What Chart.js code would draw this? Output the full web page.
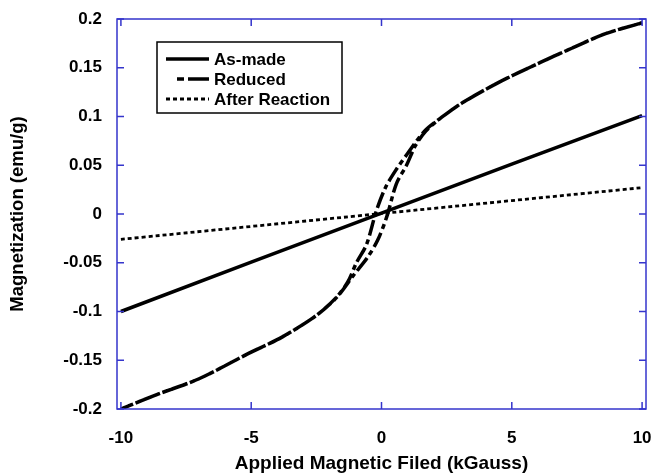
<!DOCTYPE html>
<html>
<head>
<meta charset="utf-8">
<script src="https://cdn.jsdelivr.net/npm/chart.js@4/dist/chart.umd.min.js"></script>
<style>
  html, body { margin: 0; padding: 0; background: #fff; }
  #wrap { width: 654px; height: 475px; }
</style>
</head>
<body>
<div id="wrap"><canvas id="mag"></canvas></div>
<script>
// applied field (kGauss) and magnetization (emu/g)
const fieldAsMade = [-10, 0, 10];
const momentAsMade = [-0.1, 0.001, 0.101];

const fieldAfter = [-10, 0, 10];
const momentAfter = [-0.026, 0.0005, 0.027];

// reduced sample: descending branch (+10 -> -10) then ascending branch (-10 -> +10)
const fieldReduced = [
  10, 8.6, 7.3, 5.9, 4.5, 3.1, 2.3, 1.65, 1.0, 0.55, 0.15, -0.2, -0.57, -0.96, -1.3, -1.75, -2.5, -3.8, -5.1, -7.0, -8.6, -10,
  -8.6, -7.0, -5.1, -3.8, -2.5, -1.7, -1.05, -0.55, -0.15, 0.2, 0.57, 0.96, 1.3, 1.7, 2.3, 3.1, 4.5, 5.9, 7.3, 8.6, 10
];
const momentReduced = [
  0.196, 0.185, 0.170, 0.153, 0.135, 0.114, 0.099, 0.085, 0.062, 0.045, 0.027, 0.003, -0.031, -0.05, -0.07, -0.086, -0.104, -0.126, -0.143, -0.169, -0.185, -0.2,
  -0.185, -0.169, -0.143, -0.126, -0.104, -0.085, -0.062, -0.045, -0.027, -0.003, 0.031, 0.05, 0.07, 0.085, 0.099, 0.114, 0.135, 0.153, 0.170, 0.185, 0.196
];

const xTicks = [-10, -5, 0, 5, 10];
const yTicks = [-0.2, -0.15, -0.1, -0.05, 0, 0.05, 0.1, 0.15, 0.2];

const seriesNames = ["As-made", "Reduced", "After Reaction"];

const pts = (xs, ys) => xs.map((x, i) => ({ x: x, y: ys[i] }));

const FRAME = "#3535cc";
const FONT = "'Liberation Sans', Arial, sans-serif";

const dashes = [[], [16, 4, 5, 4], [4, 3]];
const widths = [3.5, 3.5, 2.8];

// frame, inward tick marks and the boxed legend
const decor = {
  id: "decor",
  afterDraw(chart) {
    const { ctx, chartArea: a, scales } = chart;
    ctx.save();
    ctx.strokeStyle = FRAME;
    ctx.lineWidth = 1.5;
    ctx.strokeRect(a.left, a.top, a.right - a.left, a.bottom - a.top);
    ctx.beginPath();
    xTicks.forEach((v) => {
      const px = scales.x.getPixelForValue(v);
      ctx.moveTo(px, a.bottom); ctx.lineTo(px, a.bottom - 7);
      ctx.moveTo(px, a.top); ctx.lineTo(px, a.top + 7);
    });
    yTicks.forEach((v) => {
      const py = scales.y.getPixelForValue(v);
      ctx.moveTo(a.left, py); ctx.lineTo(a.left + 7, py);
      ctx.moveTo(a.right, py); ctx.lineTo(a.right - 7, py);
    });
    ctx.stroke();

    // legend box
    const bx = a.left + 40, by = a.top + 23, bw = 185, bh = 71;
    ctx.strokeStyle = "#000";
    ctx.lineWidth = 1.5;
    ctx.strokeRect(bx, by, bw, bh);
    ctx.font = "bold 17px " + FONT;
    ctx.fillStyle = "#000";
    ctx.textBaseline = "middle";
    seriesNames.forEach((name, i) => {
      const y = by + 17 + i * 20;
      ctx.beginPath();
      ctx.lineWidth = widths[i];
      ctx.setLineDash(dashes[i]);
      if (i === 1) {
        ctx.setLineDash([]);
        ctx.moveTo(bx + 20, y); ctx.lineTo(bx + 27, y);
        ctx.moveTo(bx + 31, y); ctx.lineTo(bx + 52, y);
      } else {
        ctx.moveTo(bx + 9, y); ctx.lineTo(bx + 52, y);
      }
      ctx.stroke();
      ctx.setLineDash([]);
      ctx.fillText(name, bx + 57, y + 1);
    });
    ctx.restore();
  }
};

new Chart(document.getElementById("mag"), {
  type: "scatter",
  data: {
    datasets: [
      { label: seriesNames[0], data: pts(fieldAsMade, momentAsMade) },
      { label: seriesNames[1], data: pts(fieldReduced, momentReduced) },
      { label: seriesNames[2], data: pts(fieldAfter, momentAfter) }
    ].map((d, i) => Object.assign(d, {
      showLine: true,
      borderColor: "#000",
      backgroundColor: "#000",
      borderWidth: widths[i],
      borderDash: dashes[i],
      pointRadius: 0,
      tension: 0.3,
      fill: false
    }))
  },
  options: {
    responsive: true,
    maintainAspectRatio: false,
    animation: false,
    layout: { padding: { top: 19, right: 8, left: 0, bottom: 0 } },
    plugins: { legend: { display: false }, tooltip: { enabled: false } },
    scales: {
      x: {
        type: "linear",
        min: -10.15,
        max: 10.15,
        afterBuildTicks: (s) => { s.ticks = xTicks.map((v) => ({ value: v })); },
        afterFit: (s) => { s.height = 66; s.paddingLeft = 0; s.paddingRight = 0; },
        grid: { display: false },
        border: { display: false },
        ticks: {
          padding: 11,
          color: "#000",
          font: { family: FONT, size: 17, weight: "bold" },
          callback: (v) => String(v)
        },
        title: {
          display: true,
          text: "Applied Magnetic Filed (kGauss)",
          color: "#000",
          font: { family: FONT, size: 19, weight: "bold" },
          padding: { top: 0, bottom: 0 }
        }
      },
      y: {
        type: "linear",
        min: -0.2,
        max: 0.2,
        afterBuildTicks: (s) => { s.ticks = yTicks.map((v) => ({ value: v })); },
        afterFit: (s) => { s.width = 117; s.paddingTop = 0; s.paddingBottom = 0; },
        grid: { display: false },
        border: { display: false },
        ticks: {
          padding: 7,
          color: "#000",
          font: { family: FONT, size: 17, weight: "bold" },
          callback: (v) => String(Number(v.toFixed(2)))
        },
        title: {
          display: true,
          text: "Magnetization (emu/g)",
          color: "#000",
          font: { family: FONT, size: 18.5, weight: "bold" },
          padding: { top: 7, bottom: 0 }
        }
      }
    }
  },
  plugins: [decor]
});
</script>
</body>
</html>
